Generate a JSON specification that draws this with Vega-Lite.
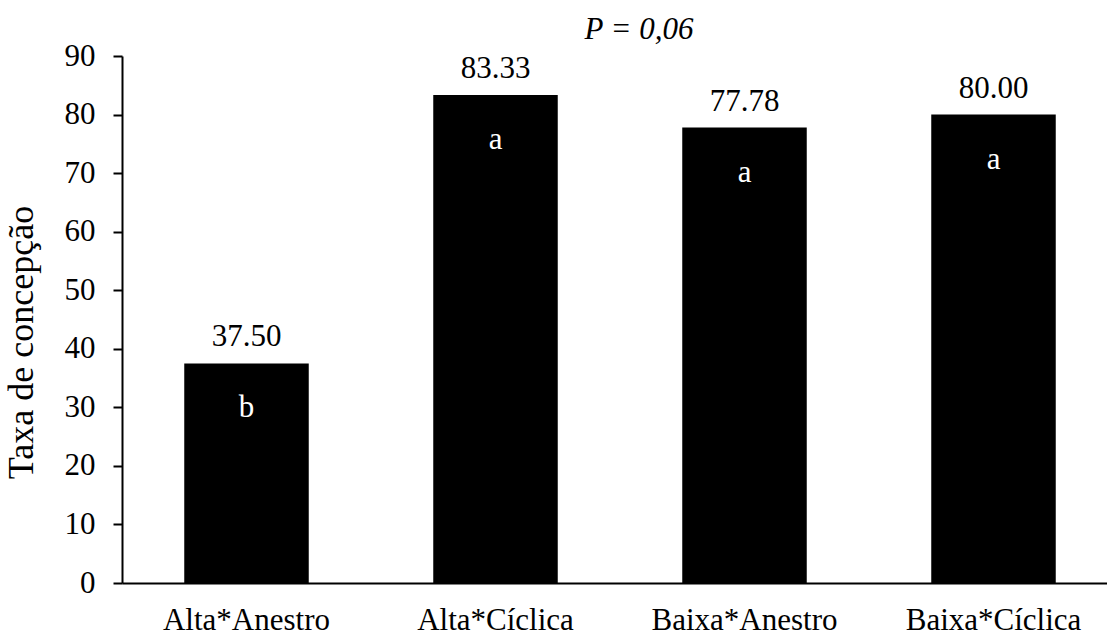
{
  "$schema": "https://vega.github.io/schema/vega-lite/v6.json",
  "autosize": "none",
  "width": 996,
  "height": 527,
  "padding": {"left": 122, "top": 56, "right": 0, "bottom": 52},
  "background": "white",
  "config": {
    "font": "Liberation Serif",
    "view": {"stroke": null},
    "axis": {"grid": false, "domainColor": "black", "tickColor": "black", "labelColor": "black", "titleColor": "black", "labelFont": "Liberation Serif", "titleFont": "Liberation Serif", "titleFontWeight": "normal", "labelLimit": 0}
  },
  "title": {
    "text": "P = 0,06",
    "font": "Liberation Serif",
    "fontStyle": "italic",
    "fontWeight": "normal",
    "fontSize": 31,
    "color": "black",
    "anchor": "middle",
    "baseline": "alphabetic",
    "offset": -30,
    "dx": 19
  },
  "data": {
    "values": [
      {"grupo": "Alta*Anestro", "taxa": 37.5, "rotulo": "37.50", "letra": "b"},
      {"grupo": "Alta*Cíclica", "taxa": 83.33, "rotulo": "83.33", "letra": "a"},
      {"grupo": "Baixa*Anestro", "taxa": 77.78, "rotulo": "77.78", "letra": "a"},
      {"grupo": "Baixa*Cíclica", "taxa": 80.0, "rotulo": "80.00", "letra": "a"}
    ]
  },
  "encoding": {
    "x": {
      "field": "grupo",
      "type": "nominal",
      "sort": null,
      "scale": {"paddingInner": 0.5, "paddingOuter": 0.25},
      "axis": {"title": null, "labelAngle": 0, "labelFontSize": 31, "tickSize": 0, "labelPadding": 22, "domainWidth": 2, "labelLimit": 0}
    },
    "y": {
      "field": "taxa",
      "type": "quantitative",
      "scale": {"domain": [0, 90], "nice": false},
      "axis": {
        "title": "Taxa de concepção",
        "values": [0, 10, 20, 30, 40, 50, 60, 70, 80, 90],
        "labelFontSize": 31,
        "titleFontSize": 36,
        "tickSize": 9,
        "tickWidth": 2,
        "domainWidth": 2,
        "labelPadding": 18,
        "titleX": -90,
        "titleY": 286,
        "titleAngle": -90,
        "titleAlign": "center",
        "titleBaseline": "alphabetic"
      }
    }
  },
  "layer": [
    {"mark": {"type": "bar", "color": "black"}},
    {
      "mark": {"type": "text", "baseline": "alphabetic", "dy": -17, "fontSize": 31, "color": "black", "font": "Liberation Serif"},
      "encoding": {"text": {"field": "rotulo"}}
    },
    {
      "mark": {"type": "text", "baseline": "alphabetic", "dy": 54, "fontSize": 31, "color": "white", "font": "Liberation Serif"},
      "encoding": {"text": {"field": "letra"}}
    }
  ]
}
